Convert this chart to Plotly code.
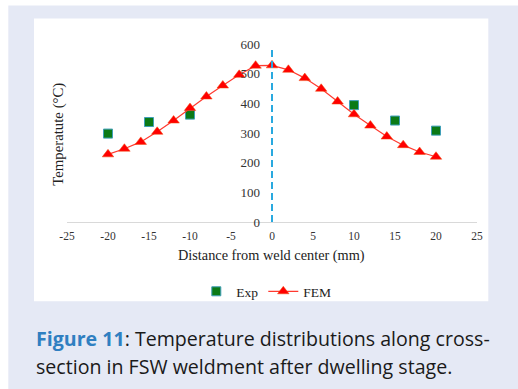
import plotly.graph_objects as go

# ---- data ----
exp_x = [-20, -15, -10, 10, 15, 20]
exp_y = [298, 337, 362, 394, 342, 308]

fem_x = [-20, -18, -16, -14, -12, -10, -8, -6, -4, -2, 0, 2, 4, 6, 8, 10, 12, 14, 16, 18, 20]
fem_y = [228, 247, 270, 304, 342, 384, 423, 460, 496, 527, 528, 513, 485, 449, 406, 363, 325, 288, 259, 236, 220]

center_x = [0, 0]
center_y = [0, 580]

x_ticks = [-25, -20, -15, -10, -5, 0, 5, 10, 15, 20, 25]
x_ticklabels = ["-25", "-20", "-15", "-10", "-5", "0", "5", "10", "15", "20", "25"]
y_ticks = [0, 100, 200, 300, 400, 500, 600]
y_ticklabels = ["0", "100", "200", "300", "400", "500", "600"]

# ---- geometry (pixels) ----
W_PX, H_PX = 518, 389
L, R, T, B = 66.7, 476.7, 44.3, 221.7
PW, PH = R - L, B - T


def fx(px):
    return (px - L) / PW


def fy(py):
    return (B - py) / PH


LAV = "#e5e9f5"
SERIF = "Liberation Serif, Times New Roman, serif"
CAP_FONT = "Open Sans, sans-serif"

fig = go.Figure()

fig.add_trace(go.Scatter(
    x=exp_x, y=exp_y, mode="markers", name="Exp",
    marker=dict(symbol="square", size=9, color="#0b7a16",
                line=dict(color="#3f9fb8", width=1)),
))
fig.add_trace(go.Scatter(
    x=fem_x, y=fem_y, mode="lines+markers", name="FEM",
    line=dict(color="#ff3a30", width=1.2),
    marker=dict(symbol="triangle-up", size=10, color="#ff0000",
                line=dict(color="#f04a10", width=0.5)),
))
fig.add_trace(go.Scatter(
    x=center_x, y=center_y, mode="lines", showlegend=False,
    line=dict(color="#29a9df", width=2, dash="7px,4px"),
    hoverinfo="skip",
))

shapes = [
    dict(type="rect", xref="paper", yref="paper", layer="below",
         x0=fx(8), x1=fx(W_PX + 5), y0=fy(H_PX + 5), y1=fy(6),
         fillcolor=LAV, line=dict(width=0)),
    dict(type="rect", xref="paper", yref="paper", layer="below",
         x0=fx(33.7), x1=fx(488), y0=fy(300.7), y1=fy(19),
         fillcolor="white", line=dict(width=0)),
]

annotations = [
    dict(text="Temperatute (°C)", xref="paper", yref="paper",
         x=fx(57.5), y=fy(134), textangle=-90, showarrow=False,
         font=dict(family=SERIF, size=14.8, color="#222222"),
         xanchor="center", yanchor="middle"),
    dict(text="Distance from weld center (mm)", xref="paper", yref="paper",
         x=fx(271), y=fy(255), showarrow=False,
         font=dict(family=SERIF, size=14.3, color="#222222"),
         xanchor="center", yanchor="middle"),
    dict(text="<b><span style='color:#2f7fc1'>Figure 11</span></b>: Temperature distributions along cross-",
         xref="paper", yref="paper", x=fx(34), y=fy(338), showarrow=False,
         font=dict(family=CAP_FONT, size=19.6, color="#1a1a1a"),
         xanchor="left", yanchor="middle"),
    dict(text="section in FSW weldment after dwelling stage.",
         xref="paper", yref="paper", x=fx(34), y=fy(366), showarrow=False,
         font=dict(family=CAP_FONT, size=19.6, color="#1a1a1a"),
         xanchor="left", yanchor="middle"),
]

fig.update_layout(
    width=W_PX, height=H_PX,
    margin=dict(l=L, r=W_PX - R, t=T, b=H_PX - B, pad=0),
    paper_bgcolor="white", plot_bgcolor="rgba(0,0,0,0)",
    shapes=shapes, annotations=annotations,
    showlegend=True,
    legend=dict(orientation="h", x=fx(266), y=fy(291), xanchor="center", yanchor="middle",
                font=dict(family=SERIF, size=13.5, color="#222222"),
                bgcolor="rgba(0,0,0,0)", itemwidth=30),
    xaxis=dict(range=[-25, 25], tickvals=x_ticks, ticktext=x_ticklabels,
               showgrid=False, zeroline=False, showline=True, linecolor="#d9d9d9", linewidth=1,
               ticks="", tickfont=dict(family=SERIF, size=11.5, color="#333333"),
               ticklabelstandoff=3, fixedrange=True),
    yaxis=dict(range=[0, 600], tickvals=y_ticks, ticktext=y_ticklabels,
               showgrid=False, zeroline=False, showline=False,
               anchor="free", position=0.5,
               ticks="", tickfont=dict(family=SERIF, size=13, color="#333333"),
               ticklabelstandoff=12, fixedrange=True),
)

fig.write_html("out.html")
